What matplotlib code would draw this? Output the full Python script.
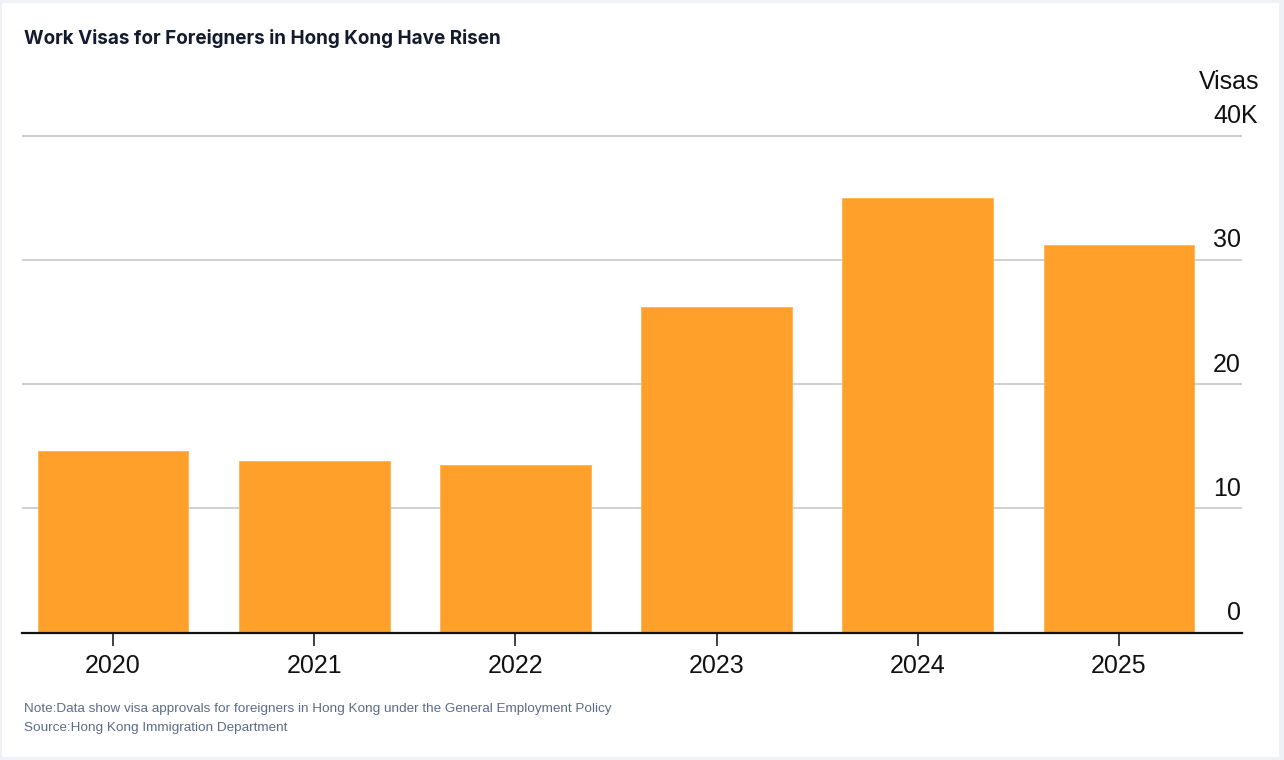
import matplotlib
matplotlib.use("Agg")
import matplotlib.pyplot as plt
import matplotlib.transforms as mtransforms
from matplotlib.patches import Rectangle

# ---- data ----
years = ["2020", "2021", "2022", "2023", "2024", "2025"]
visas_k = [14.6, 13.8, 13.5, 26.2, 35.0, 31.2]
y_ticks = [0, 10, 20, 30, 40]
y_tick_labels = ["0", "10", "20", "30", "40"]

title = "Work Visas for Foreigners in Hong Kong Have Risen"
note = "Note:Data show visa approvals for foreigners in Hong Kong under the General Employment Policy"
source = "Source:Hong Kong Immigration Department"

W, H = 1284, 760
fig = plt.figure(figsize=(W / 100, H / 100), dpi=100)
fig.patch.set_facecolor("#eef2f6")
fig.patches.append(Rectangle((2 / W, 3 / H), (1279 - 2) / W, (757 - 3) / H,
                             transform=fig.transFigure, facecolor="white",
                             edgecolor="none", zorder=-10))

# axes geometry in pixels
ax_left, ax_right = 22, 1242
ax_bottom = 632.7
px_per_unit = 12.43
ymax = 41
ax_top = ax_bottom - ymax * px_per_unit
ax = fig.add_axes([ax_left / W, (H - ax_bottom) / H,
                   (ax_right - ax_left) / W, (ax_bottom - ax_top) / H])
ax.set_facecolor("none")
ax.set_zorder(1)

x = list(range(len(years)))
ax.bar(x, visas_k, width=0.75, color="#FFA02B", edgecolor="#FFB352",
       linewidth=0.6, zorder=3)

pitch = 201.2
ax.set_xlim((ax_left - 113) / pitch, (ax_right - 113) / pitch)
ax.set_ylim(0, ymax)

# gridlines
for t in y_ticks[1:]:
    ax.axhline(t, color="#cfcfcf", linewidth=1.4, zorder=1)

for s in ["top", "right", "left"]:
    ax.spines[s].set_visible(False)
ax.spines["bottom"].set_color("#111111")
ax.spines["bottom"].set_linewidth(1.6)
ax.spines["bottom"].set_zorder(4)

ax.set_xticks(x)
ax.set_xticklabels(years, fontsize=18, family=["Liberation Sans", "DejaVu Sans"],
                   color="#111111")
ax.tick_params(axis="x", length=9.5, width=1.3, color="#333333", pad=6)
ax.set_yticks([])

# y labels inside, above gridlines, right-aligned
offset = mtransforms.ScaledTranslation(0, 12.5 / 100, fig.dpi_scale_trans)
trans = mtransforms.blended_transform_factory(ax.transAxes, ax.transData) + offset
for t, lab in zip(y_ticks, y_tick_labels):
    ax.text(0.9992, t, lab, transform=trans, ha="right", va="baseline",
            fontsize=18, family=["Liberation Sans", "DejaVu Sans"], color="#111111")
ax.text(0.9992, y_ticks[-1], "K", transform=trans, ha="left", va="baseline",
        fontsize=18, family=["Liberation Sans", "DejaVu Sans"], color="#111111")
fig.text(1259 / W, 1 - 89 / H, "Visas", ha="right", va="baseline",
         fontsize=18, family=["Liberation Sans", "DejaVu Sans"], color="#111111")

# title
fig.text(24 / W, 1 - 44 / H, title, ha="left", va="baseline", fontsize=13.6,
         fontweight="bold", family=["Inter", "DejaVu Sans"], color="#141b2d")

# footer
fig.text(24 / W, 1 - 712 / H, note, ha="left", va="baseline", fontsize=9.7,
         family=["Liberation Sans", "DejaVu Sans"], color="#5c6c86")
fig.text(24 / W, 1 - 731 / H, source, ha="left", va="baseline", fontsize=9.7,
         family=["Liberation Sans", "DejaVu Sans"], color="#5c6c86")

fig.savefig("out.png", dpi=100, facecolor=fig.get_facecolor())
